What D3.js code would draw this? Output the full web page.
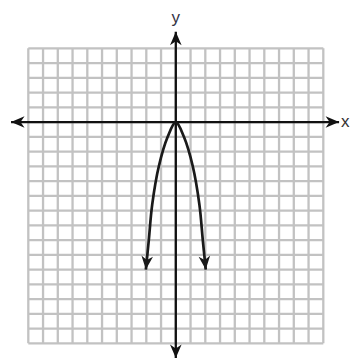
<!DOCTYPE html>
<html>
<head>
<meta charset="utf-8">
<script src="https://cdn.jsdelivr.net/npm/d3@7"></script>
<style>
  html, body { margin: 0; padding: 0; background: #fff; }
  svg { display: block; }
</style>
</head>
<body>
<svg id="chart" width="353" height="360"></svg>
<script>
  // grid covers x -10..10 and y -15..5, one unit per square
  const gridX = [-10, -9, -8, -7, -6, -5, -4, -3, -2, -1, 0, 1, 2, 3, 4, 5, 6, 7, 8, 9, 10]
  const gridY = [5, 4, 3, 2, 1, 0, -1, -2, -3, -4, -5, -6, -7, -8, -9, -10, -11, -12, -13, -14, -15]

  // points (arrow tips at the ends)
  const curveX = [-2.03, -1.83, -1.6, -1.15, -0.55, 0, 0.55, 1.15, 1.6, 1.83, 2.03]
  const curveY = [-10, -8, -5.6, -3, -1, 0, -1, -3, -5.6, -8, -10]

  const axisXRange = [-11.17, 11.07]
  const axisYRange = [6.13, -16.0]

  const svg = d3.select('#chart')

  const x = d3.scaleLinear().domain([-10, 10]).range([28.3, 323.3])
  const y = d3.scaleLinear().domain([5, -15]).range([48.3, 343.3])

  const defs = svg.append('defs')
  function arrow(id, color){
    defs.append('marker')
      .attr('id', id)
      .attr('markerUnits', 'userSpaceOnUse')
      .attr('viewBox', '-15 -7 17 14')
      .attr('refX', 0)
      .attr('refY', 0)
      .attr('markerWidth', 17)
      .attr('markerHeight', 14)
      .attr('orient', 'auto-start-reverse')
      .append('path')
        .attr('d', 'M0,0 L-13.5,-5.8 L-9.5,0 L-13.5,5.8 Z')
        .attr('fill', color)
  }
  arrow('axisArrow', '#111')
  arrow('curveArrow', '#1a1a1a')

  // grid
  const grid = svg.append('g').attr('stroke', '#c2c2c2').attr('stroke-width', 2.3)
  grid.selectAll('line.v').data(gridX).enter().append('line')
    .attr('class', 'v')
    .attr('x1', d => x(d)).attr('x2', d => x(d))
    .attr('y1', y(5)).attr('y2', y(-15))
  grid.selectAll('line.h').data(gridY).enter().append('line')
    .attr('class', 'h')
    .attr('y1', d => y(d)).attr('y2', d => y(d))
    .attr('x1', x(-10)).attr('x2', x(10))

  // axes
  svg.append('line')
    .attr('x1', x(axisXRange[0])).attr('x2', x(axisXRange[1]))
    .attr('y1', y(0)).attr('y2', y(0))
    .attr('stroke', '#111').attr('stroke-width', 2.3)
    .attr('marker-start', 'url(#axisArrow)')
    .attr('marker-end', 'url(#axisArrow)')
  svg.append('line')
    .attr('x1', x(0)).attr('x2', x(0))
    .attr('y1', y(axisYRange[0])).attr('y2', y(axisYRange[1]))
    .attr('stroke', '#111').attr('stroke-width', 2.3)
    .attr('marker-start', 'url(#axisArrow)')
    .attr('marker-end', 'url(#axisArrow)')

  svg.append('text')
    .attr('x', x(axisXRange[1]) + 2)
    .attr('y', y(0))
    .attr('dy', '0.32em')
    .attr('font-family', 'Liberation Sans, Arial, sans-serif')
    .attr('font-size', 17)
    .attr('fill', '#333')
    .text('x')
  svg.append('text')
    .attr('x', x(0))
    .attr('y', y(axisYRange[0]) - 9)
    .attr('text-anchor', 'middle')
    .attr('font-family', 'Liberation Sans, Arial, sans-serif')
    .attr('font-size', 17)
    .attr('fill', '#334')
    .text('y')

  // curve
  const pts = curveX.map((d, i) => [d, curveY[i]])
  const line = d3.line()
    .x(d => x(d[0]))
    .y(d => y(d[1]))
    .curve(d3.curveCatmullRom.alpha(0.5))
  svg.append('path')
    .datum(pts)
    .attr('d', line)
    .attr('fill', 'none')
    .attr('stroke', '#1a1a1a')
    .attr('stroke-width', 2.7)
    .attr('marker-start', 'url(#curveArrow)')
    .attr('marker-end', 'url(#curveArrow)')
</script>
</body>
</html>
